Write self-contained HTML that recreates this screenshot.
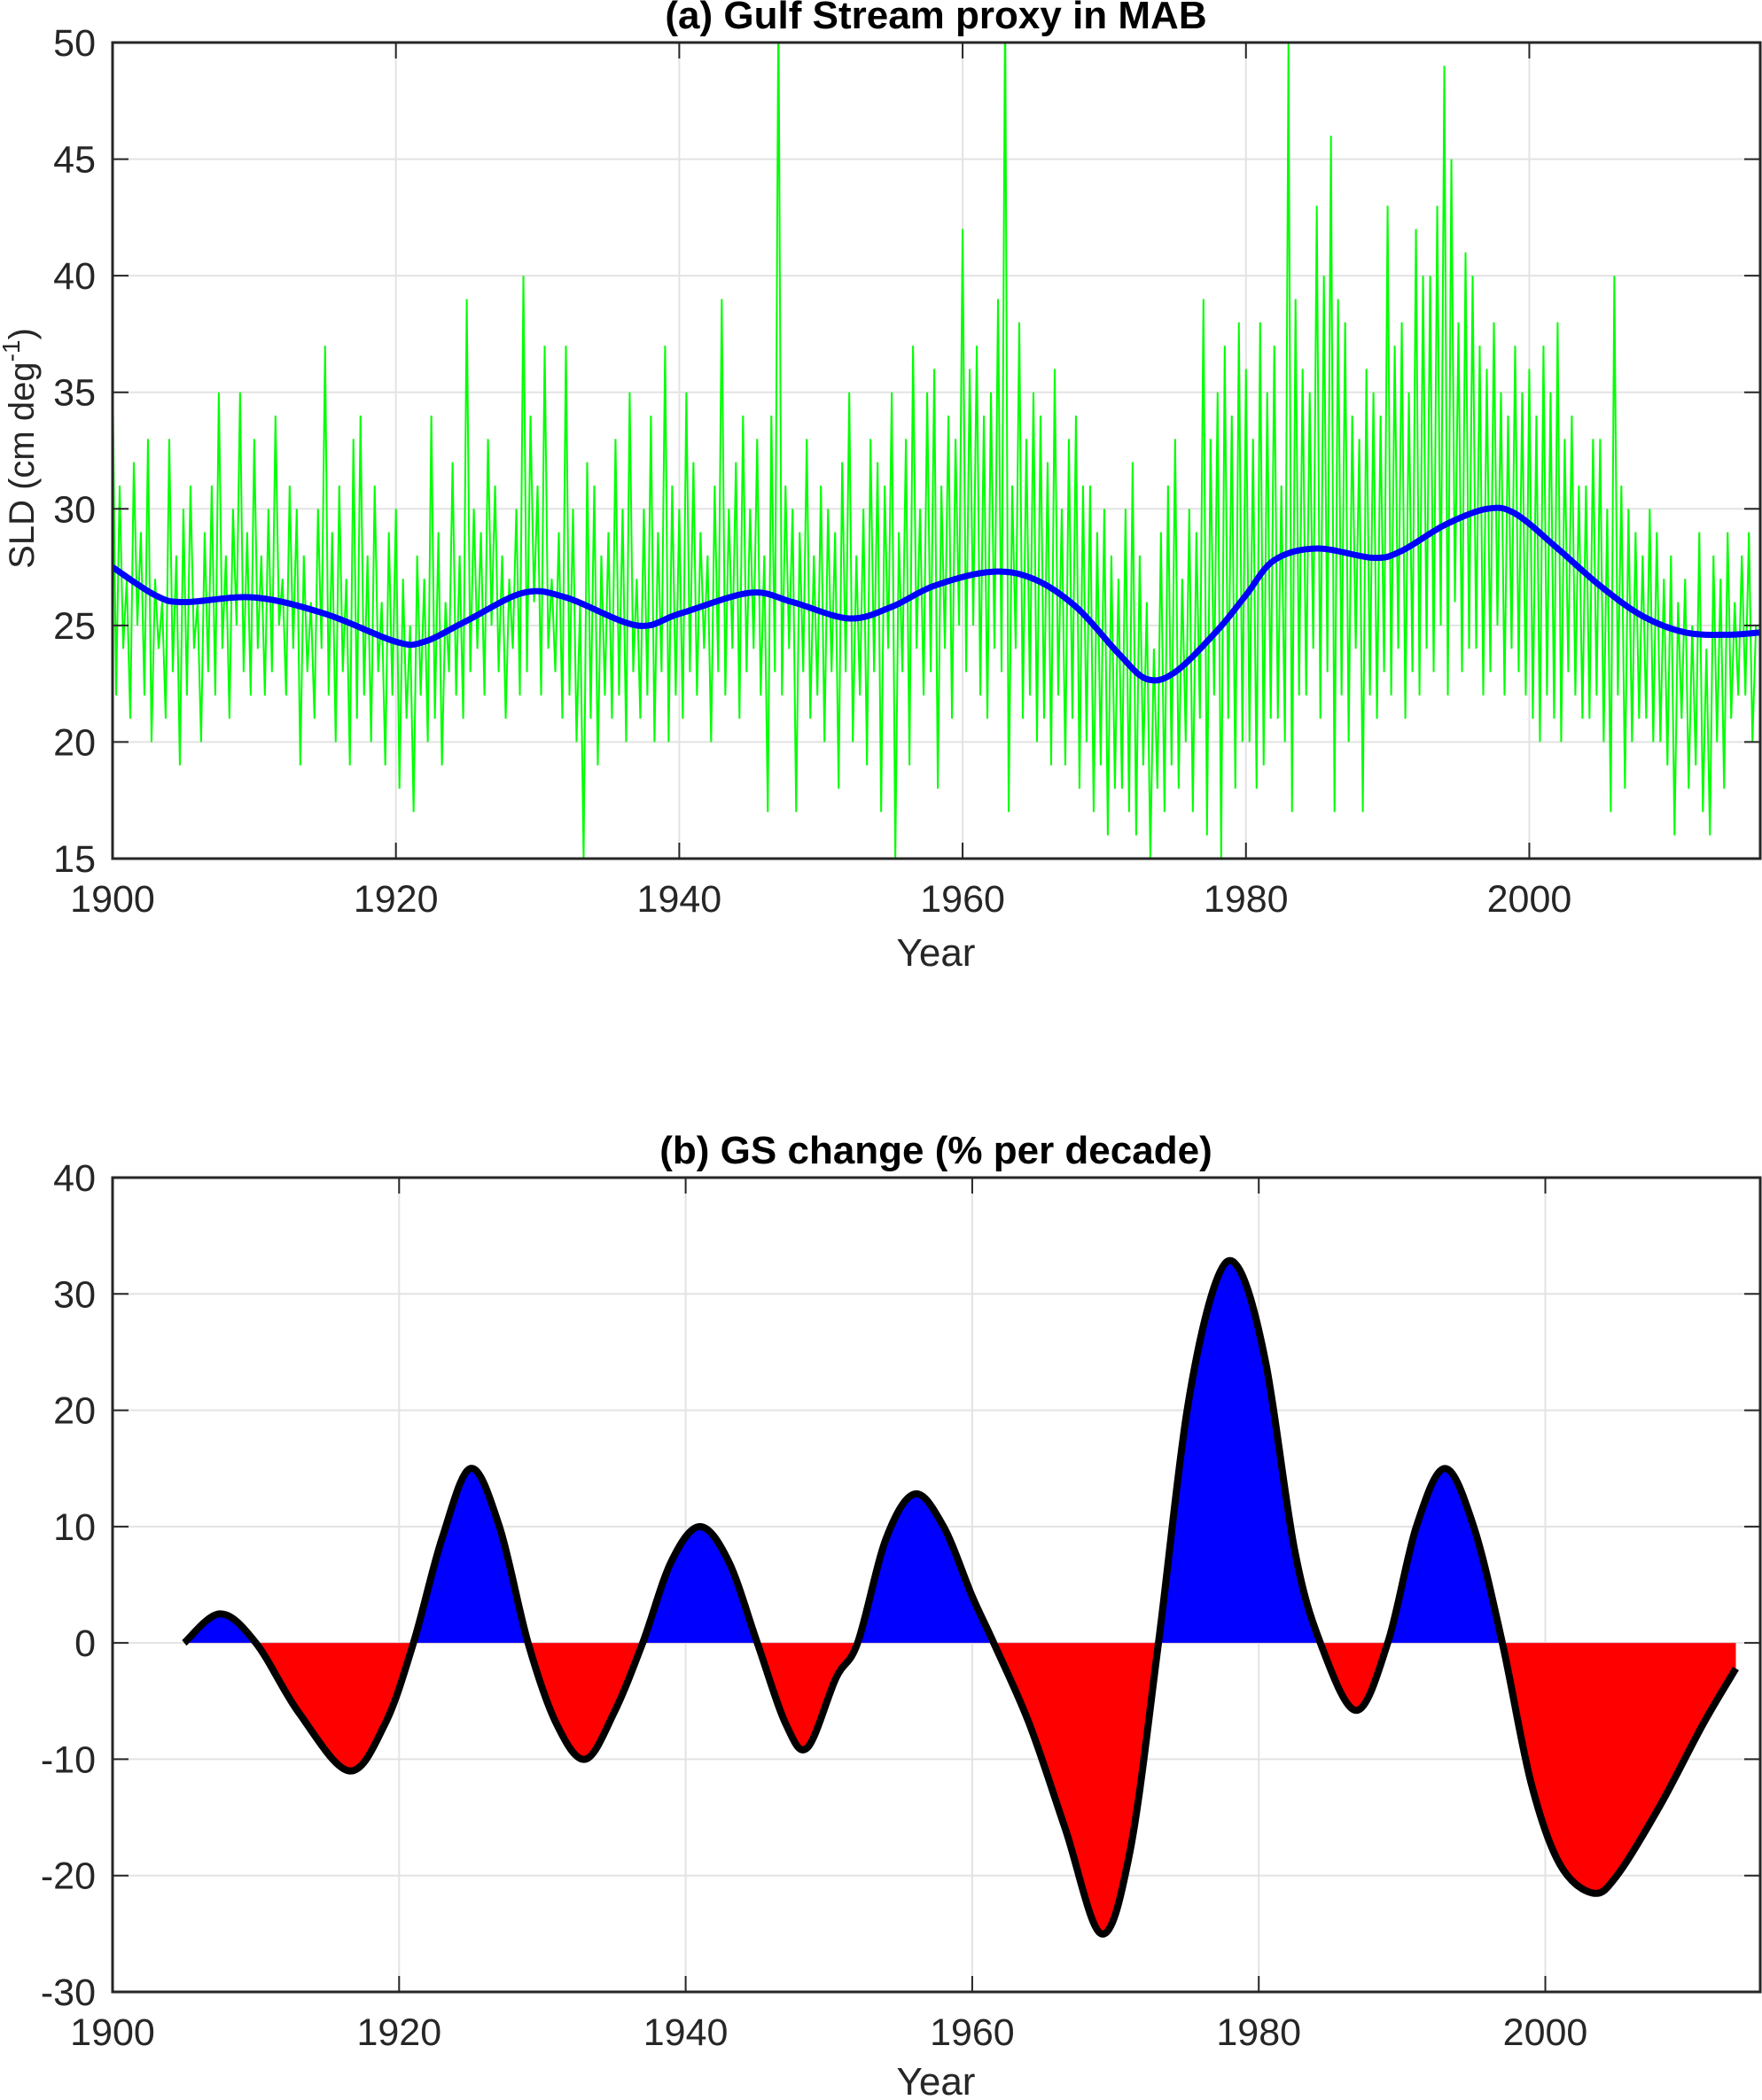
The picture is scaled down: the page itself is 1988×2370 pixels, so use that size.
<!DOCTYPE html>
<html><head><meta charset="utf-8"><style>
html,body{margin:0;padding:0;background:#fff}
svg{display:block;font-family:"Liberation Sans",Arial,sans-serif}
</style></head><body>
<svg id="fig" width="1988" height="2370" viewBox="0 0 1988 2370" xmlns="http://www.w3.org/2000/svg">
<g id="pa"></g>
<g id="pb"></g>
</svg>
<script>
// Panel a data
const greenStart = 1900;
const greenPerYear = 4;
const greenValues = [
36,22,31,24, 27,21,32,25, 29,22,33,20, 27,24,26,21, 33,23,28,19, 30,22,31,24, 26,20,29,23, 31,22,35,24, 28,21,30,25, 35,23,29,22,
33,24,28,22, 30,23,34,25, 27,22,31,24, 30,19,28,23, 26,21,30,24, 37,22,29,20, 31,23,27,19, 33,21,34,22, 28,20,31,23, 26,19,29,22,
30,18,27,21, 25,17,28,22, 27,20,34,21, 29,19,26,23, 32,22,28,21, 39,23,30,24, 29,22,33,25, 31,23,28,21, 27,24,30,22, 40,23,34,26,
31,22,37,24, 27,23,29,21, 37,22,30,20, 26,15,32,21, 31,19,28,22, 29,21,33,22, 30,20,35,23, 27,21,30,22, 34,20,29,23, 37,20,31,22,
30,21,35,23, 32,22,29,24, 28,20,31,23, 39,22,30,24, 32,21,34,23, 30,24,33,22, 28,17,34,23, 52,22,31,24, 30,17,29,23, 33,21,28,22,
31,20,30,23, 29,18,32,23, 35,20,28,22, 30,19,33,23, 32,17,31,24, 35,15,29,23, 33,19,37,24, 30,22,35,23, 36,18,31,24, 34,21,33,25,
42,23,36,25, 37,22,34,21, 35,24,39,23, 52,17,31,24, 38,21,33,22, 35,20,34,21, 32,19,36,22, 30,19,33,21, 34,18,31,20, 31,17,29,19,
30,16,28,18, 27,18,30,17, 32,16,28,19, 26,15,24,18, 29,17,31,19, 33,18,27,20, 30,17,29,21, 39,16,33,22, 35,15,37,21, 34,18,38,20,
36,20,33,18, 38,19,35,21, 37,21,31,20, 50,17,39,22, 36,22,35,24, 43,21,40,23, 46,17,39,22, 38,20,34,24, 33,17,36,22, 35,21,34,23,
43,22,37,24, 38,21,35,23, 42,22,40,24, 40,23,43,25, 49,22,45,26, 38,23,41,24, 40,24,37,22, 36,23,38,25, 35,22,34,24, 37,23,35,22,
36,21,34,20, 37,22,35,21, 38,20,33,23, 34,22,31,21, 31,21,33,22, 33,20,30,17, 40,22,31,18, 30,20,29,21, 28,21,30,20, 29,20,27,19,
28,16,26,21, 27,18,25,19, 29,17,24,16, 28,20,27,18, 29,21,26,22, 28,22,29,20, 25];
const blueYears = [1900,1903,1905,1910,1915,1920,1922,1925,1929,1932,1937,1940,1945,1948,1952,1955,1958,1962,1965,1968,1971,1973,1975,1978,1980,1982,1985,1989,1991,1994,1997,1999,2002,2005,2008,2011,2014,2016.3];
const blueValues = [27.5,26.3,26.0,26.2,25.5,24.3,24.3,25.2,26.4,26.2,25.0,25.5,26.4,26.0,25.3,25.8,26.7,27.3,27.0,25.8,23.8,22.7,23.0,24.8,26.3,27.8,28.3,27.9,28.2,29.3,30.0,29.8,28.3,26.7,25.4,24.7,24.6,24.7];
const aYTicks = [15,20,25,30,35,40,45,50];
const xTicks = [1900,1920,1940,1960,1980,2000];
// Panel b data
const gsYears = [1905,1907.5,1910,1913,1916.5,1919,1921,1923,1925,1927,1929,1931,1933,1935,1937,1939,1941,1943,1945,1947,1948.5,1950.5,1952,1954,1956,1958,1960,1961.5,1964,1966.5,1969,1971,1973,1975,1977,1978.6,1980.5,1982.5,1984.3,1986.8,1989,1991,1993,1995,1997,1999,2001,2003.3,2005,2008,2011,2013.3];
const gsValues = [0,2.5,0,-6,-11,-7,0,9,15,10,0,-7,-10,-6,0,7,10,7,0,-7,-9,-3,0,9,12.8,10,4,0,-7,-16,-25,-18,0,20,31,32.2,24,8,0,-5.8,0,10,15,10,0,-12,-19,-21.5,-20,-14,-7,-2.2];
const bYTicks = [-30,-20,-10,0,10,20,30,40];

const NS='http://www.w3.org/2000/svg';
function mk(tag,attrs,parent,text){const e=document.createElementNS(NS,tag);for(const k in attrs)e.setAttribute(k,attrs[k]);if(text!==undefined)e.textContent=text;parent.appendChild(e);return e;}
const L=127,R=1986;
let xmax=2016.3;
function sx(y){return L+(y-1900)*(R-L)/(xmax-1900);}
function smooth(pts){let d='M'+pts[0][0]+','+pts[0][1];for(let i=0;i<pts.length-1;i++){const p0=pts[Math.max(0,i-1)],p1=pts[i],p2=pts[i+1],p3=pts[Math.min(pts.length-1,i+2)];
const c1x=p1[0]+(p2[0]-p0[0])/6,c1y=p1[1]+(p2[1]-p0[1])/6,c2x=p2[0]-(p3[0]-p1[0])/6,c2y=p2[1]-(p3[1]-p1[1])/6;d+=` C${c1x},${c1y} ${c2x},${c2y} ${p2[0]},${p2[1]}`;}return d;}
function frame(g,T,B,yt,sy,id){
  mk('rect',{x:L,y:T,width:R-L,height:B-T,fill:'#fff'},g);
  for(const t of xTicks){if(t===1900)continue;const l=mk('line',{x1:sx(t),x2:sx(t),y1:T,y2:B,stroke:'#e3e3e3','stroke-width':2},g);}
  for(const t of yt){const l=mk('line',{x1:L,x2:R,y1:sy(t),y2:sy(t),stroke:'#e3e3e3','stroke-width':2},g);}
  mk('clipPath',{id:id},g);mk('rect',{x:L,y:T,width:R-L,height:B-T},g.lastChild);
}
function axes(g,T,B,yt,sy){
  for(const t of xTicks){mk('line',{x1:sx(t),x2:sx(t),y1:B,y2:B-18,stroke:'#262626','stroke-width':2},g);mk('line',{x1:sx(t),x2:sx(t),y1:T,y2:T+18,stroke:'#262626','stroke-width':2},g);
    const tx=mk('text',{x:sx(t),y:B+60,'font-size':43,'text-anchor':'middle',fill:'#262626'},g,String(t));}
  for(const t of yt){mk('line',{x1:L,x2:L+18,y1:sy(t),y2:sy(t),stroke:'#262626','stroke-width':2},g);mk('line',{x1:R,x2:R-18,y1:sy(t),y2:sy(t),stroke:'#262626','stroke-width':2},g);
    const tx=mk('text',{x:108,y:sy(t)+15,'font-size':43,'text-anchor':'end',fill:'#262626'},g,String(t));}
  const b=mk('rect',{x:L,y:T,width:R-L,height:B-T,fill:'none',stroke:'#262626','stroke-width':3},g);
}
// Panel A
(function(){
  xmax=2016.3;
  const g=document.getElementById('pa');const T=48,B=969;
  const sy=v=>B-(v-15)*(B-T)/35;
  frame(g,T,B,aYTicks,sy,'clipA');
  const gp=greenValues.map((v,i)=>[sx(greenStart+i/greenPerYear),sy(v)]);
  const gl=mk('polyline',{points:gp.map(p=>p.join(',')).join(' '),fill:'none',stroke:'#00ff00','stroke-width':2,'clip-path':'url(#clipA)'},g);
  
  const bp=blueYears.map((y,i)=>[sx(y),sy(blueValues[i])]);
  const bl=mk('path',{d:smooth(bp),fill:'none',stroke:'#0000ff','stroke-width':7,'clip-path':'url(#clipA)'},g);
  
  axes(g,T,B,aYTicks,sy);
  const t=mk('text',{x:1056,y:32,'font-size':44,'font-weight':'bold','text-anchor':'middle',fill:'#000'},g,'(a) Gulf Stream proxy in MAB');
  const xl=mk('text',{x:1056,y:1090,'font-size':44,'text-anchor':'middle',fill:'#262626'},g,'Year');
  const yl=mk('text',{x:0,y:0,'font-size':40,'text-anchor':'middle',fill:'#262626',transform:'translate(38,506) rotate(-90)'},g);
  
  yl.innerHTML='SLD (cm deg<tspan dy="-16" font-size="28">-1</tspan><tspan dy="16">)</tspan>';
})();
// Panel B
(function(){
  xmax=2015.0;
  const g=document.getElementById('pb');const T=1329,B=2248;
  const sy=v=>B-(v+30)*(B-T)/70;
  frame(g,T,B,bYTicks,sy,'clipB');
  const pts=gsYears.map((y,i)=>[sx(y),sy(gsValues[i])]);
  const d=smooth(pts);const z=sy(0);
  const area=d+` L${pts[pts.length-1][0]},${z} L${pts[0][0]},${z} Z`;
  mk('clipPath',{id:'cpPos'},g);mk('rect',{x:L,y:T,width:R-L,height:z-T},g.lastChild);
  mk('clipPath',{id:'cpNeg'},g);mk('rect',{x:L,y:z,width:R-L,height:B-z},g.lastChild);
  const ap=mk('path',{d:area,fill:'#0000ff','clip-path':'url(#cpPos)'},g);
  const an=mk('path',{d:area,fill:'#ff0000','clip-path':'url(#cpNeg)'},g);
  const ln=mk('path',{d:d,fill:'none',stroke:'#000','stroke-width':8},g);
  axes(g,T,B,bYTicks,sy);
  const t=mk('text',{x:1056,y:1313,'font-size':44,'font-weight':'bold','text-anchor':'middle',fill:'#000'},g,'(b) GS change (% per decade)');
  const xl=mk('text',{x:1056,y:2364,'font-size':44,'text-anchor':'middle',fill:'#262626'},g,'Year');
})();
</script>
</body></html>
